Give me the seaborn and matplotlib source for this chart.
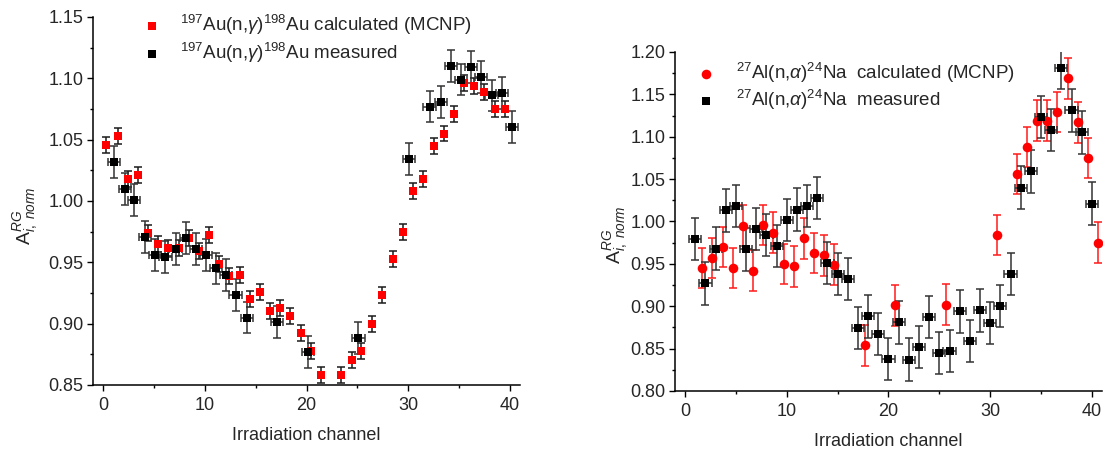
import pandas as pd
import matplotlib
matplotlib.use('Agg')
import matplotlib.pyplot as plt
import seaborn as sns
from matplotlib.ticker import MultipleLocator, FormatStrFormatter

# === DONNEES : Au (gauche) ===
au_calc_x = [0.3, 1.4, 2.4, 3.4, 4.4, 5.4, 6.4, 7.4, 8.4, 9.4, 10.4, 11.4, 12.4, 13.4, 14.4, 15.4,
             16.4, 17.4, 18.4, 19.4, 20.4, 21.4, 23.4, 24.5, 25.4, 26.4, 27.4, 28.5, 29.5, 30.5,
             31.5, 32.5, 33.5, 34.5, 35.5, 36.5, 37.5, 38.5, 39.5]
au_calc_y = [1.046, 1.053, 1.018, 1.021, 0.974, 0.965, 0.962, 0.962, 0.970, 0.959, 0.972, 0.949,
             0.939, 0.940, 0.920, 0.926, 0.910, 0.913, 0.906, 0.892, 0.878, 0.858, 0.858, 0.870,
             0.878, 0.900, 0.923, 0.953, 0.975, 1.008, 1.018, 1.045, 1.055, 1.071, 1.096, 1.094,
             1.089, 1.075, 1.075]
au_mes_x = [1.0, 2.1, 3.0, 4.1, 5.1, 6.1, 7.1, 8.1, 9.1, 10.1, 11.1, 12.1, 13.0, 14.1, 17.1, 20.1,
            25.1, 30.1, 32.1, 33.2, 34.2, 35.2, 36.2, 37.2, 38.2, 39.2, 40.2]
au_mes_y = [1.032, 1.010, 1.001, 0.971, 0.956, 0.954, 0.961, 0.970, 0.961, 0.956, 0.945, 0.940,
            0.923, 0.905, 0.901, 0.877, 0.888, 1.034, 1.077, 1.081, 1.110, 1.099, 1.109, 1.101,
            1.086, 1.088, 1.060]
AU_CALC_YERR = 0.0065
AU_MES_YERR = 0.013
MES_XERR = 0.6

# === DONNEES : Al (droite) ===
al_calc_x = [1.64, 2.66, 3.68, 4.66, 5.68, 6.67, 7.65, 8.67, 9.69, 10.67, 11.66, 12.68, 13.66,
             14.6, 17.67, 20.6, 25.65, 30.64, 32.6, 33.63, 34.6, 35.6, 36.62, 37.67, 38.62,
             39.64, 40.62]
al_calc_y = [0.945, 0.957, 0.970, 0.945, 0.995, 0.942, 0.996, 0.987, 0.950, 0.947, 0.980, 0.963,
             0.960, 0.949, 0.854, 0.901, 0.902, 0.984, 1.056, 1.088, 1.119, 1.119, 1.129, 1.169,
             1.117, 1.075, 0.975]
al_mes_x = list(range(1, 41))
al_mes_y = [0.979, 0.927, 0.968, 1.013, 1.018, 0.967, 0.991, 0.984, 0.971, 1.002, 1.014, 1.018,
            1.028, 0.951, 0.938, 0.932, 0.874, 0.888, 0.867, 0.838, 0.881, 0.837, 0.852, 0.887,
            0.845, 0.847, 0.894, 0.859, 0.895, 0.880, 0.900, 0.938, 1.040, 1.059, 1.123, 1.108,
            1.181, 1.131, 1.105, 1.021]
AL_CALC_YERR = 0.024
AL_MES_YERR = 0.025

sns.set_style("ticks")
plt.rcParams["font.family"] = ["Liberation Sans", "DejaVu Sans"]
plt.rcParams["mathtext.fontset"] = "custom"
plt.rcParams["mathtext.rm"] = "Liberation Sans"
plt.rcParams["mathtext.it"] = "Liberation Sans:italic"
plt.rcParams["mathtext.bf"] = "Liberation Sans:bold"

YLABEL = r"$\mathrm{A}^{RG}_{i,\ norm}$"
ERR_KW = dict(fmt="none", elinewidth=1.1, capsize=2.6, capthick=1.1, zorder=2)

fig = plt.figure(figsize=(11.04, 4.54), dpi=100)
ax1 = fig.add_axes([0.0845, 0.152, 0.3865, 0.8106])
ax2 = fig.add_axes([0.6114, 0.1388, 0.3868, 0.7467])

# --- Panneau gauche : Au ---
ax1.errorbar(au_calc_x, au_calc_y, yerr=AU_CALC_YERR, ecolor="0.1", **ERR_KW)
ax1.errorbar(au_mes_x, au_mes_y, yerr=AU_MES_YERR, xerr=MES_XERR, ecolor="0.2", **ERR_KW)
sns.scatterplot(x=au_calc_x, y=au_calc_y, marker="s", color="#ff0000", s=32, linewidth=0,
                label=r"$^{197}$Au(n,$\gamma$)$^{198}$Au calculated (MCNP)", ax=ax1, zorder=3)
sns.scatterplot(x=au_mes_x, y=au_mes_y, marker="s", color="black", s=32, linewidth=0,
                label=r"$^{197}$Au(n,$\gamma$)$^{198}$Au measured", ax=ax1, zorder=4)
ax1.set_ylim(0.85, 1.15)

# --- Panneau droit : Al ---
ax2.errorbar(al_calc_x, al_calc_y, yerr=AL_CALC_YERR, ecolor="#ff1a1a", **ERR_KW)
ax2.errorbar(al_mes_x, al_mes_y, yerr=AL_MES_YERR, xerr=MES_XERR, ecolor="0.2", **ERR_KW)
sns.scatterplot(x=al_calc_x, y=al_calc_y, marker="o", color="#ff0000", s=48, linewidth=0,
                label=r"$^{27}$Al(n,$\alpha$)$^{24}$Na  calculated (MCNP)", ax=ax2, zorder=3)
sns.scatterplot(x=al_mes_x, y=al_mes_y, marker="s", color="black", s=32, linewidth=0,
                label=r"$^{27}$Al(n,$\alpha$)$^{24}$Na  measured", ax=ax2, zorder=4)
ax2.set_ylim(0.80, 1.20)

for ax in (ax1, ax2):
    ax.set_xlim(-1, 41)
    ax.xaxis.set_major_locator(MultipleLocator(10))
    ax.xaxis.set_minor_locator(MultipleLocator(5))
    ax.yaxis.set_major_locator(MultipleLocator(0.05))
    ax.yaxis.set_minor_locator(MultipleLocator(0.025))
    ax.yaxis.set_major_formatter(FormatStrFormatter("%.2f"))
    ax.tick_params(which="major", length=4, width=1, labelsize=13, pad=3, color="black")
    ax.tick_params(which="minor", length=2.2, width=1, color="black")
    ax.tick_params(axis="x", which="major", pad=5)
    for side in ("left", "bottom"):
        ax.spines[side].set_color("black")
        ax.spines[side].set_linewidth(1.1)
    sns.despine(ax=ax)
    ax.set_xlabel("Irradiation channel", fontsize=13, labelpad=9)

ax1.set_ylabel(YLABEL, fontsize=14, labelpad=6, y=0.46)
ax2.set_ylabel(YLABEL, fontsize=14, labelpad=0, y=0.46)

ax1.legend(loc="upper left", bbox_to_anchor=(0.075, 1.031), frameon=False, fontsize=13.5,
           handletextpad=0.5, labelspacing=0.22, borderaxespad=0)
ax2.legend(loc="upper left", bbox_to_anchor=(0.012, 0.995), frameon=False, fontsize=13.5,
           handletextpad=0.6, labelspacing=0.13, borderaxespad=0)

plt.savefig("out.png", dpi=100)
plt.close()
